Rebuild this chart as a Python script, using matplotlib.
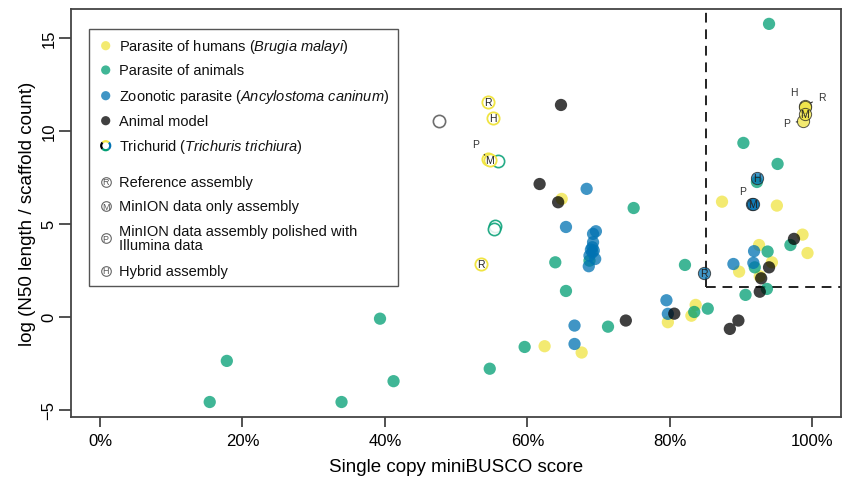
import matplotlib
matplotlib.use('Agg')
import matplotlib.pyplot as plt
from matplotlib.patches import Rectangle, Arc

plt.rcParams['font.family'] = ['Liberation Sans', 'DejaVu Sans']
plt.rcParams['mathtext.fontset'] = 'custom'
plt.rcParams['mathtext.rm'] = 'Liberation Sans'
plt.rcParams['mathtext.it'] = 'Liberation Sans:italic'

# ---------------- data ----------------
human_x = [64.8, 62.4, 67.6, 79.7, 83.6, 83.0, 87.3, 95.0, 92.5, 89.7, 94.3, 92.6, 98.6, 99.3]
human_y = [6.33, -1.59, -1.93, -0.30, 0.63, 0.05, 6.18, 5.97, 3.85, 2.42, 2.92, 2.17, 4.41, 3.42]

animal_x = [93.9, 90.3, 95.1, 92.2, 74.9, 63.9, 68.7, 65.4, 82.1, 85.3, 83.4, 90.6, 93.7, 91.9,
            96.9, 93.6, 71.3, 59.6, 54.7, 39.3, 17.8, 15.4, 33.9, 41.2]
animal_y = [15.74, 9.34, 8.21, 7.24, 5.84, 2.92, 3.01, 1.38, 2.78, 0.43, 0.25, 1.17, 3.50, 2.65,
            3.85, 1.49, -0.54, -1.63, -2.80, -0.11, -2.38, -4.59, -4.59, -3.47]

zoonotic_x = [68.3, 65.4, 69.6, 69.2, 69.2, 69.1, 69.3, 69.1, 68.7, 69.5, 68.9, 68.6,
              66.6, 66.6, 79.5, 79.7, 91.8, 91.7, 88.9]
zoonotic_y = [6.87, 4.82, 4.59, 4.45, 4.00, 3.73, 3.55, 3.46, 3.28, 3.10, 3.60, 2.71,
              -0.48, -1.47, 0.88, 0.15, 3.52, 2.89, 2.83]

model_x = [64.7, 61.7, 64.3, 73.8, 80.6, 88.4, 89.6, 92.6, 92.8, 93.9, 97.4]
model_y = [11.38, 7.13, 6.15, -0.21, 0.16, -0.66, -0.21, 1.34, 2.06, 2.65, 4.18]

# Trichurid assemblies without assembly-type letter (open rings)
tri_x = [47.6, 55.9, 55.4, 55.3]
tri_y = [10.50, 8.39, 4.89, 4.72]
tri_group = ['model', 'animal', 'animal', 'animal']

# Assemblies with an assembly-type letter
asm_x = [54.4, 55.1, 54.5, 54.7, 53.5, 98.7, 99.0, 98.9, 98.9, 84.8, 91.5, 91.6, 92.2]
asm_y = [11.53, 10.70, 8.45, 8.42, 2.83, 10.50, 11.35, 11.25, 10.90, 2.33, 6.05, 6.04, 7.44]
asm_type = ['R', 'H', 'P', 'M', 'R', 'P', 'R', 'H', 'M', 'R', 'P', 'M', 'H']
asm_group = ['human'] * 9 + ['zoonotic'] * 4
asm_trichurid = [True] * 5 + [False] * 8

x_threshold = 85.05
y_threshold = 1.6

x_ticks = [0, 20, 40, 60, 80, 100]
x_ticklabels = ['0%', '20%', '40%', '60%', '80%', '100%']
y_ticks = [-5, 0, 5, 10, 15]
y_ticklabels = ['\u22125', '0', '5', '10', '15']

legend_labels = [
    'Parasite of humans ($\\mathit{Brugia\\ malayi}$)',
    'Parasite of animals',
    'Zoonotic parasite ($\\mathit{Ancylostoma\\ caninum}$)',
    'Animal model',
    'Trichurid ($\\mathit{Trichuris\\ trichiura}$)',
    'Reference assembly',
    'MinION data only assembly',
    'MinION data assembly polished with\nIllumina data',
    'Hybrid assembly',
]
legend_letters = ['R', 'M', 'P', 'H']

colors = {'human': '#F0E442', 'animal': '#009E73', 'zoonotic': '#0072B2', 'model': '#000000'}
ALPHA = 0.75

# ---------------- figure ----------------
W, H = 843, 481
fig = plt.figure(figsize=(W / 100, H / 100), dpi=100)
ax = fig.add_axes([71 / W, 1 - 417.7 / H, 770 / W, 407.7 / H])

S = 78
for xs, ys, g in [(human_x, human_y, 'human'), (animal_x, animal_y, 'animal'),
                  (zoonotic_x, zoonotic_y, 'zoonotic'), (model_x, model_y, 'model')]:
    ax.scatter(xs, ys, s=S, color=colors[g], alpha=ALPHA, edgecolors='none', zorder=3)

for x, y, g in zip(tri_x, tri_y, tri_group):
    ec = '#555555' if g == 'model' else colors[g]
    ax.scatter([x], [y], s=S, facecolors='white', edgecolors=ec, linewidths=1.2,
               alpha=0.85, zorder=3)

# callout offsets (points) for letters drawn outside their marker
callouts = {2: (-9, 11), 5: (-12, -1), 6: (12, 6), 7: (-8, 11), 10: (-7, 9.5)}

for i, (x, y, t, g, tr) in enumerate(zip(asm_x, asm_y, asm_type, asm_group, asm_trichurid)):
    if tr:
        ax.scatter([x], [y], s=S, facecolors='white', edgecolors=colors[g], linewidths=1.3, zorder=4)
    else:
        ax.scatter([x], [y], s=S, color=colors[g], alpha=ALPHA, edgecolors='#222222',
                   linewidths=0.7, zorder=4)
    if i in callouts:
        dx, dy = callouts[i]
        ax.annotate(t, xy=(x, y), xytext=(dx, dy), textcoords='offset points',
                    ha='center', va='center', fontsize=7.5, color='#333333', zorder=6,
                    arrowprops=dict(arrowstyle='-', lw=0.8, color='#333333',
                                    shrinkA=2.5, shrinkB=4))
    else:
        ax.text(x, y, t, ha='center', va='center', fontsize=7.5, color='#222222', zorder=5)

# threshold lines
ax.plot([x_threshold, x_threshold], [y_threshold, 20], ls=(0, (5, 3.5)), lw=1.4,
        color='#222222', zorder=2)
ax.plot([x_threshold, 120], [y_threshold, y_threshold], ls=(0, (5, 3.5)), lw=1.4,
        color='#222222', zorder=2)

ax.set_xlim(-4.07, 104.0)
ax.set_ylim(-5.38, 16.54)
ax.set_xticks(x_ticks)
ax.set_xticklabels(x_ticklabels, fontsize=12)
ax.set_yticks(y_ticks)
ax.set_yticklabels(y_ticklabels, fontsize=12, rotation=90, va='center')
ax.tick_params(axis='x', length=7, width=1.2, color='#333333', pad=5)
ax.tick_params(axis='y', length=9, width=1.2, color='#333333', pad=1.5)
for sp in ax.spines.values():
    sp.set_linewidth(1.3)
    sp.set_color('#444444')
ax.set_xlabel('Single copy miniBUSCO score', fontsize=13.5, labelpad=7)
ax.set_ylabel('log (N50 length / scaffold count)', fontsize=13.5, labelpad=4)

# ---------------- legend (drawn in pixel space) ----------------
lax = fig.add_axes([0, 0, 1, 1], zorder=10)
lax.set_xlim(0, W)
lax.set_ylim(H, 0)
lax.axis('off')
lax.patch.set_alpha(0)

lax.add_patch(Rectangle((89, 30), 309, 257, facecolor='white', edgecolor='#555555', lw=1.0))
rows_y = [46.7, 71, 96.7, 121.7, 146.7, 182.7, 207.3, 239, 271.7]
mx, tx = 105.7, 119.3
for k, (lab, yy) in enumerate(zip(legend_labels, rows_y)):
    lax.text(tx, yy, lab, fontsize=10.5, va='center', ha='left', color='#111111', linespacing=1.0)
    if k < 4:
        g = ['human', 'animal', 'zoonotic', 'model'][k]
        lax.scatter([mx], [yy], s=44, color=colors[g], alpha=ALPHA, edgecolors='none')
    elif k == 4:
        for (a0, a1), g in zip([(45, 135), (135, 225), (225, 315), (315, 405)],
                               ['human', 'model', 'animal', 'zoonotic']):
            lax.add_patch(Arc((mx, yy), 9, 9, theta1=-a1, theta2=-a0,
                              color=colors[g], lw=1.6))
    else:
        lax.scatter([mx], [yy], s=48, facecolors='white', edgecolors='#666666', linewidths=0.8)
        lax.text(mx, yy + 0.3, legend_letters[k - 5], fontsize=6.5, ha='center', va='center',
                 color='#555555')

fig.savefig('out.png', dpi=100)
